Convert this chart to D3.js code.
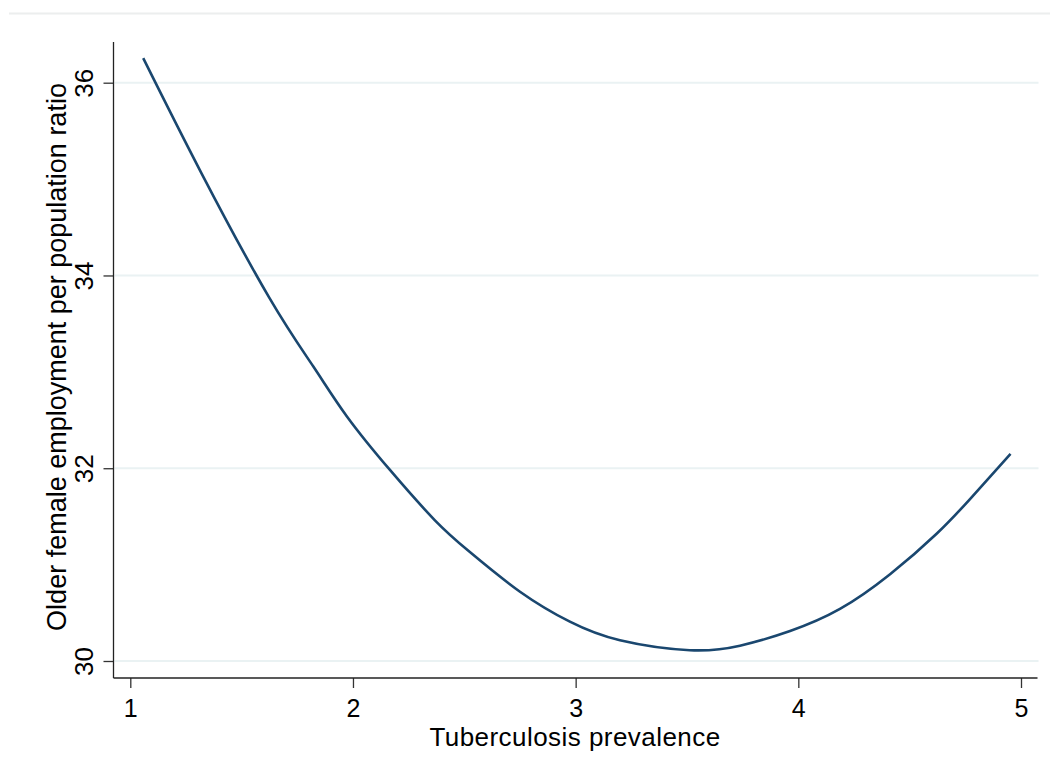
<!DOCTYPE html>
<html>
<head>
<meta charset="utf-8">
<script src="https://cdn.jsdelivr.net/npm/d3@7"></script>
<style>
  html, body { margin: 0; padding: 0; background: #ffffff; }
  svg { display: block; }
  text { font-family: "Liberation Sans", Arial, sans-serif; fill: #000; }
</style>
</head>
<body>
<svg id="chart" width="1050" height="778"></svg>
<script>
// Fitted curve: tuberculosis prevalence vs. older female employment ratio
const prevalence = [1.058, 1.321, 1.624, 1.822, 1.972, 2.166, 2.368, 2.525, 2.750, 2.974,
                    3.199, 3.513, 3.738, 3.963, 4.187, 4.412, 4.621, 4.771, 4.953];
const employment = [36.255, 35.055, 33.770, 33.055, 32.540, 31.982, 31.460, 31.130, 30.719, 30.408,
                    30.215, 30.112, 30.159, 30.311, 30.540, 30.900, 31.320, 31.680, 32.148];
const xTicks = [1, 2, 3, 4, 5];
const yTicks = [30, 32, 34, 36];
const xTitle = "Tuberculosis prevalence";
const yTitle = "Older female employment per population ratio";

const svg = d3.select("#chart");

const x = d3.scaleLinear().domain([1, 5]).range([130.3, 1021]);
const y = d3.scaleLinear().domain([30, 36]).range([661, 82.7]);

const plotLeft = 113.5, plotRight = 1037.5, plotTop = 42, plotBottom = 678;

// faint rule across the top of the graph region
svg.append("line")
  .attr("x1", 9).attr("x2", 1050).attr("y1", 13.5).attr("y2", 13.5)
  .attr("stroke", "#eceeee").attr("stroke-width", 2);

// horizontal gridlines
svg.append("g").selectAll("line").data(yTicks).join("line")
  .attr("x1", plotLeft + 1).attr("x2", plotRight + 1)
  .attr("y1", d => y(d)).attr("y2", d => y(d))
  .attr("stroke", "#eaf2f3").attr("stroke-width", 2);

// y axis
const yAxis = d3.axisLeft(y).tickValues(yTicks).tickFormat(d3.format("d"))
  .tickSize(10).tickPadding(0).tickSizeOuter(0);
const gy = svg.append("g").attr("transform", `translate(${plotLeft},0)`).call(yAxis);
gy.select(".domain").remove();
gy.selectAll(".tick line").attr("stroke", "#333").attr("stroke-width", 1.3);
gy.selectAll(".tick text")
  .attr("x", null).attr("dy", null)
  .attr("transform", "translate(-20.5,0) rotate(-90)")
  .attr("text-anchor", "middle")
  .style("font-size", "26px");
svg.append("line")
  .attr("x1", plotLeft).attr("x2", plotLeft).attr("y1", plotTop).attr("y2", plotBottom)
  .attr("stroke", "#222").attr("stroke-width", 1.3);

// x axis
const xAxis = d3.axisBottom(x).tickValues(xTicks).tickFormat(d3.format("d"))
  .tickSize(10).tickPadding(0).tickSizeOuter(0);
const gx = svg.append("g").attr("transform", `translate(0,${plotBottom})`).call(xAxis);
gx.select(".domain").remove();
gx.selectAll(".tick line").attr("stroke", "#333").attr("stroke-width", 1.3);
gx.selectAll(".tick text")
  .attr("y", 39).attr("dy", null)
  .attr("text-anchor", "middle")
  .style("font-size", "25px");
svg.append("line")
  .attr("x1", plotLeft).attr("x2", plotRight).attr("y1", plotBottom).attr("y2", plotBottom)
  .attr("stroke", "#222").attr("stroke-width", 1.3);

// fitted line
const pts = prevalence.map((p, i) => [p, employment[i]]);
const line = d3.line().x(d => x(d[0])).y(d => y(d[1])).curve(d3.curveNatural);
svg.append("path")
  .datum(pts)
  .attr("d", line)
  .attr("fill", "none")
  .attr("stroke", "#1a476f")
  .attr("stroke-width", 2.6)
  .attr("stroke-linejoin", "round");

// axis titles
svg.append("text")
  .attr("x", 575).attr("y", 746)
  .attr("text-anchor", "middle")
  .style("font-size", "26px")
  .style("letter-spacing", "0.45px")
  .text(xTitle);

svg.append("text")
  .attr("transform", "translate(66,357) rotate(-90)")
  .attr("text-anchor", "middle")
  .style("font-size", "27px")
  .text(yTitle);
</script>
</body>
</html>
